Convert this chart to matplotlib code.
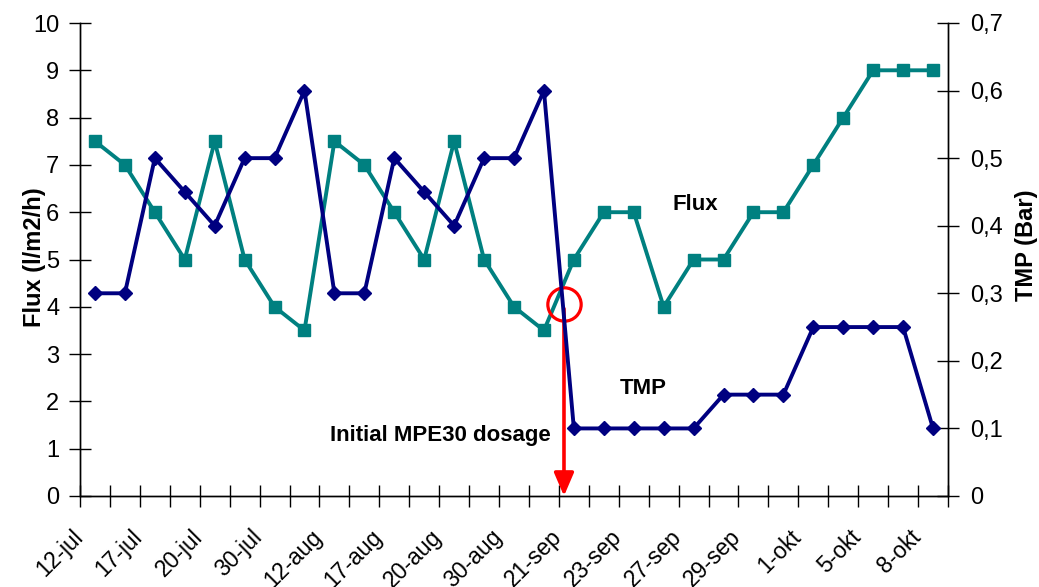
import matplotlib
matplotlib.use("Agg")
import matplotlib.pyplot as plt
import matplotlib.transforms as mtransforms
import numpy as np

plt.rcParams['font.family'] = ['Liberation Sans', 'DejaVu Sans']

date_labels = ["12-jul", "17-jul", "20-jul", "30-jul", "12-aug", "17-aug", "20-aug",
               "30-aug", "21-sep", "23-sep", "27-sep", "29-sep", "1-okt", "5-okt", "8-okt"]
flux = [7.5, 7.0, 6.0, 5.0, 7.5, 5.0, 4.0, 3.5, 7.5, 7.0, 6.0, 5.0, 7.5, 5.0, 4.0,
        3.5, 5.0, 6.0, 6.0, 4.0, 5.0, 5.0, 6.0, 6.0, 7.0, 8.0, 9.0, 9.0, 9.0]
tmp = [0.30, 0.30, 0.50, 0.45, 0.40, 0.50, 0.50, 0.60, 0.30, 0.30, 0.50, 0.45, 0.40, 0.50, 0.50,
       0.60, 0.10, 0.10, 0.10, 0.10, 0.10, 0.15, 0.15, 0.15, 0.25, 0.25, 0.25, 0.25, 0.10]

teal = "#008080"
navy = "#000080"

fig = plt.figure(figsize=(10.39, 5.87), dpi=100)
ax = fig.add_axes([80/1039, 1-496/587, (948-80)/1039, (496-23)/587])
ax2 = ax.twinx()

n = len(flux)
x = np.arange(n)

ax.plot(x, flux, color=teal, lw=2.8, marker='s', ms=8.5, mec=teal, mfc=teal, zorder=3)
ax2.plot(x, tmp, color=navy, lw=2.8, marker='D', ms=7.5, mec=navy, mfc=navy, zorder=3)

ax.set_xlim(-0.5, n - 0.5)
ax.set_ylim(0, 10)
ax2.set_ylim(0, 0.7)

for a in (ax, ax2):
    a.spines['top'].set_visible(False)
    for s in a.spines.values():
        s.set_linewidth(1.0)

ax.set_yticks(range(0, 11))
ax.tick_params(axis='y', direction='inout', length=16, width=1, labelsize=17, pad=7)
ax2.set_yticks(np.arange(0, 0.71, 0.1))
ax2.set_yticklabels([f"{v:.1f}".replace('.', ',') if v > 0 else "0" for v in np.arange(0, 0.71, 0.1)])
ax2.tick_params(axis='y', direction='inout', length=16, width=1, labelsize=17, pad=8)

ax.set_xticks(x[::2])
ax.set_xticklabels(date_labels, rotation=45, ha='right', rotation_mode='anchor', fontsize=16.5)
ax.set_xticks(np.arange(-0.5, n, 1.0), minor=True)
ax.tick_params(axis='x', which='major', length=0, pad=24)
ax.tick_params(axis='x', which='minor', direction='inout', length=16, width=1)
offset = mtransforms.ScaledTranslation(-24/100, 4/100, fig.dpi_scale_trans)
for lbl in ax.get_xticklabels():
    lbl.set_transform(lbl.get_transform() + offset)

fig.text(34/1039, 1-257/587, "Flux (l/m2/h)", rotation=90, fontsize=17, fontweight='bold',
         ha='center', va='center')
fig.text(1027/1039, 1-245/587, "TMP (Bar)", rotation=90, fontsize=17, fontweight='bold',
         ha='center', va='center')

ax.text(672/1039, 1-205/587, "Flux", transform=fig.transFigure, fontsize=16,
        fontweight='bold', ha='left', va='center')
ax.text(620/1039, 1-388/587, "TMP", transform=fig.transFigure, fontsize=16,
        fontweight='bold', ha='left', va='center')
ax.text(551/1039, 1-436/587, "Initial MPE30 dosage", transform=fig.transFigure, fontsize=16,
        fontweight='bold', ha='right', va='center')

# red circle and arrow marking the initial dosage
cx = 15.67
cy = 4.06
ax.plot([cx], [cy], marker='o', ms=24, mfc='none', mec='red', mew=2.3, zorder=5,
        clip_on=False)
ax.annotate("", xy=(cx, 0), xytext=(cx, cy - 0.1),
            arrowprops=dict(arrowstyle='-|>,head_length=1.4,head_width=0.6', color='red',
                            lw=2.6, shrinkA=0, shrinkB=0), zorder=6, annotation_clip=False)

fig.savefig("out.png", dpi=100)
